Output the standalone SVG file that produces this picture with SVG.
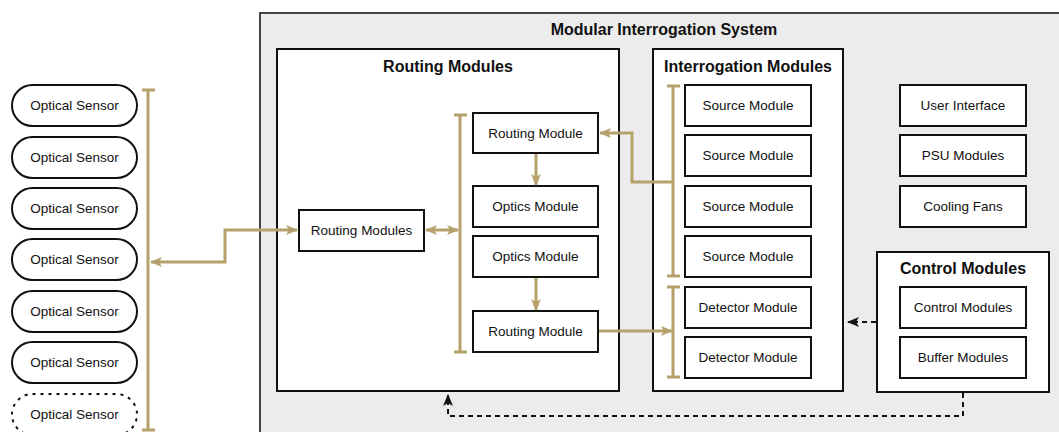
<svg xmlns="http://www.w3.org/2000/svg" width="1059" height="432" viewBox="0 0 1059 432">
  <style>
    .sys { fill: #ececec; stroke: #444; stroke-width: 2; }
    .grp { fill: #fff; stroke: #111; stroke-width: 2; }
    .box { fill: #fff; stroke: #111; stroke-width: 2; }
    .pill { fill: #fff; stroke: #111; stroke-width: 2; }
    .pill-opt { fill: #fff; stroke: #111; stroke-width: 2; stroke-dasharray: 3 5; }
    .lbl { font-family: "Liberation Sans", Arial, sans-serif; font-size: 13.5px; fill: #111; text-anchor: middle; dominant-baseline: central; }
    .ttl { font-family: "Liberation Sans", Arial, sans-serif; font-size: 16px; font-weight: bold; fill: #111; text-anchor: middle; dominant-baseline: central; }
    .bus { stroke: #b4a16c; stroke-width: 3; fill: none; }
    .link { stroke: #b4a16c; stroke-width: 3; fill: none; }
    .ctl { stroke: #111; stroke-width: 2; fill: none; stroke-dasharray: 5 4; }
  </style>
  <defs>
    <marker id="gold" viewBox="0 0 12 10" refX="11" refY="5" markerWidth="12" markerHeight="10" markerUnits="userSpaceOnUse" orient="auto-start-reverse">
      <path d="M0,0 L12,5 L0,10 L3,5 Z" fill="#b4a16c"/>
    </marker>
    <marker id="blk" viewBox="0 0 12 10" refX="11" refY="5" markerWidth="12" markerHeight="10" markerUnits="userSpaceOnUse" orient="auto">
      <path d="M0,0 L12,5 L0,10 L3,5 Z" fill="#111"/>
    </marker>
  </defs>

  <!-- System enclosure -->
  <g id="system">
    <rect class="sys" x="260" y="13" width="810" height="430"/>
    <text class="ttl" x="664" y="29">Modular Interrogation System</text>
  </g>

  <!-- Optical sensors -->
  <g id="sensor-1"><rect class="pill" x="12" y="85" width="125" height="41" rx="20.5"/><text class="lbl" x="74.5" y="105.5">Optical Sensor</text></g>
  <g id="sensor-2"><rect class="pill" x="12" y="137" width="125" height="41" rx="20.5"/><text class="lbl" x="74.5" y="157.5">Optical Sensor</text></g>
  <g id="sensor-3"><rect class="pill" x="12" y="188" width="125" height="41" rx="20.5"/><text class="lbl" x="74.5" y="208.5">Optical Sensor</text></g>
  <g id="sensor-4"><rect class="pill" x="12" y="239" width="125" height="41" rx="20.5"/><text class="lbl" x="74.5" y="259.5">Optical Sensor</text></g>
  <g id="sensor-5"><rect class="pill" x="12" y="291" width="125" height="41" rx="20.5"/><text class="lbl" x="74.5" y="311.5">Optical Sensor</text></g>
  <g id="sensor-6"><rect class="pill" x="12" y="342" width="125" height="41" rx="20.5"/><text class="lbl" x="74.5" y="362.5">Optical Sensor</text></g>
  <g id="sensor-7"><rect class="pill-opt" x="12" y="394" width="125" height="41" rx="20.5"/><text class="lbl" x="74.5" y="414.5">Optical Sensor</text></g>

  <!-- Routing group -->
  <g id="routing-group">
    <rect class="grp" x="277" y="49" width="342" height="342"/>
    <text class="ttl" x="448" y="66">Routing Modules</text>
  </g>
  <g id="routing-modules"><rect class="box" x="299" y="210" width="125" height="41"/><text class="lbl" x="361.5" y="230.5">Routing Modules</text></g>
  <g id="routing-module-1"><rect class="box" x="473" y="113" width="125" height="40"/><text class="lbl" x="535.5" y="133">Routing Module</text></g>
  <g id="optics-module-1"><rect class="box" x="473" y="186" width="125" height="41"/><text class="lbl" x="535.5" y="206.5">Optics Module</text></g>
  <g id="optics-module-2"><rect class="box" x="473" y="236" width="125" height="41"/><text class="lbl" x="535.5" y="256.5">Optics Module</text></g>
  <g id="routing-module-2"><rect class="box" x="473" y="311" width="125" height="41"/><text class="lbl" x="535.5" y="331.5">Routing Module</text></g>

  <!-- Interrogation group -->
  <g id="interrogation-group">
    <rect class="grp" x="653" y="49" width="190" height="342"/>
    <text class="ttl" x="748" y="66">Interrogation Modules</text>
  </g>
  <g id="source-1"><rect class="box" x="685" y="85" width="126" height="41"/><text class="lbl" x="748" y="105.5">Source Module</text></g>
  <g id="source-2"><rect class="box" x="685" y="135" width="126" height="41"/><text class="lbl" x="748" y="155.5">Source Module</text></g>
  <g id="source-3"><rect class="box" x="685" y="186" width="126" height="41"/><text class="lbl" x="748" y="206.5">Source Module</text></g>
  <g id="source-4"><rect class="box" x="685" y="236" width="126" height="41"/><text class="lbl" x="748" y="256.5">Source Module</text></g>
  <g id="detector-1"><rect class="box" x="685" y="287" width="126" height="41"/><text class="lbl" x="748" y="307.5">Detector Module</text></g>
  <g id="detector-2"><rect class="box" x="685" y="337" width="126" height="41"/><text class="lbl" x="748" y="357.5">Detector Module</text></g>

  <!-- Support units -->
  <g id="user-interface"><rect class="box" x="900" y="85" width="126" height="41"/><text class="lbl" x="963" y="105.5">User Interface</text></g>
  <g id="psu-modules"><rect class="box" x="900" y="135" width="126" height="41"/><text class="lbl" x="963" y="155.5">PSU Modules</text></g>
  <g id="cooling-fans"><rect class="box" x="900" y="186" width="126" height="41"/><text class="lbl" x="963" y="206.5">Cooling Fans</text></g>

  <!-- Control group -->
  <g id="control-group">
    <rect class="grp" x="877" y="252" width="172" height="140"/>
    <text class="ttl" x="963" y="268">Control Modules</text>
  </g>
  <g id="control-modules"><rect class="box" x="900" y="287" width="126" height="41"/><text class="lbl" x="963" y="307.5">Control Modules</text></g>
  <g id="buffer-modules"><rect class="box" x="900" y="337" width="126" height="41"/><text class="lbl" x="963" y="357.5">Buffer Modules</text></g>

  <!-- Connectors -->
  <g id="connectors">
    <!-- buses -->
    <path class="bus" d="M148,90 V430 M142,90 H155 M142,430 H155"/>
    <path class="bus" d="M460,115 V352 M454,115 H467 M454,352 H467"/>
    <path class="bus" d="M673,86 V276 M667,86 H680 M667,276 H680"/>
    <path class="bus" d="M673,287 V377 M667,287 H680 M667,377 H680"/>
    <!-- signal paths -->
    <path class="link" d="M151,262 H225 V230 H297" marker-start="url(#gold)" marker-end="url(#gold)"/>
    <path class="link" d="M426,230 H458" marker-start="url(#gold)" marker-end="url(#gold)"/>
    <path class="link" d="M536,154 V185" marker-end="url(#gold)"/>
    <path class="link" d="M536,278 V310" marker-end="url(#gold)"/>
    <path class="link" d="M672,182 H632 V133 H600" marker-end="url(#gold)"/>
    <path class="link" d="M599,331 H672" marker-end="url(#gold)"/>
    <!-- control paths -->
    <path class="ctl" d="M876,322 H848" marker-end="url(#blk)"/>
    <path class="ctl" d="M963,393 V416 H448 V395" marker-end="url(#blk)"/>
  </g>
</svg>
